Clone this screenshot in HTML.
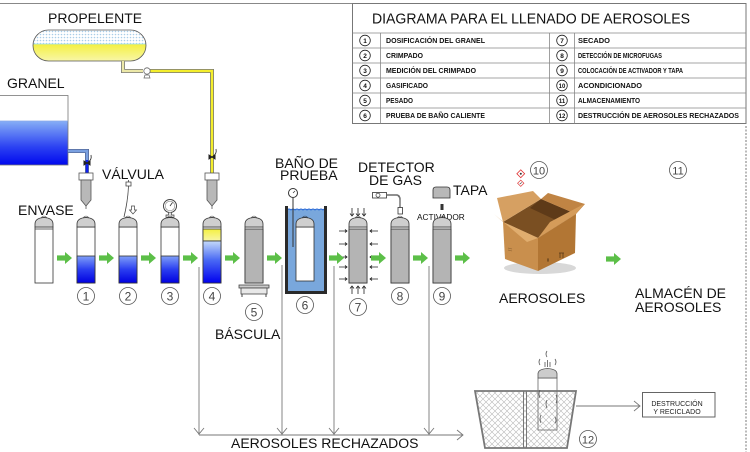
<!DOCTYPE html>
<html><head><meta charset="utf-8"><style>
html,body{margin:0;padding:0;background:#fff;}
svg{display:block;}
text{font-family:"Liberation Sans",sans-serif;}
</style></head><body>
<svg width="750" height="452" viewBox="0 0 750 452" xmlns="http://www.w3.org/2000/svg">
<defs>
 <pattern id="dots" width="3" height="3" patternUnits="userSpaceOnUse"><rect width="3" height="3" fill="#fff"/><circle cx="1.5" cy="1.5" r="0.8" fill="#a9cde8"/></pattern>
 <pattern id="hatch" width="6" height="6" patternUnits="userSpaceOnUse"><rect width="6" height="6" fill="#fff"/><path d="M0,0L6,6M6,0L0,6" stroke="#b8b8b8" stroke-width="0.6"/></pattern>
 <linearGradient id="gblue" x1="0" y1="0" x2="0" y2="1"><stop offset="0" stop-color="#86aef6"/><stop offset="0.6" stop-color="#2a40f2"/><stop offset="1" stop-color="#0008ee"/></linearGradient>
 <linearGradient id="cblue" x1="0" y1="0" x2="0" y2="1"><stop offset="0" stop-color="#7f9ff8"/><stop offset="0.5" stop-color="#2a3ef0"/><stop offset="1" stop-color="#0000e0"/></linearGradient>
 <linearGradient id="cblue4" x1="0" y1="0" x2="0" y2="1"><stop offset="0" stop-color="#c4dafa"/><stop offset="0.45" stop-color="#4a6af4"/><stop offset="1" stop-color="#0000ee"/></linearGradient>
 <linearGradient id="yel" x1="0" y1="0" x2="0" y2="1"><stop offset="0" stop-color="#f4f040"/><stop offset="1" stop-color="#f8f6a8"/></linearGradient>
 <clipPath id="tankclip"><rect x="33" y="30" width="113" height="31" rx="15.5"/></clipPath>
 <g id="dome"><path d="M-9,227 L-9,224 Q-9,218 0,217.5 Q9,218 9,224 L9,227 Z" fill="#cfcfcf" stroke="#333" stroke-width="0.8"/><path d="M-2.5,218 L-1.5,216.3 M0,217.8 L0,215.8 M2.5,218 L1.5,216.3" stroke="#222" stroke-width="0.7"/></g>
 <g id="garrow"><rect x="0" y="-2.6" width="8.5" height="5.2" fill="#5cbf48"/><path d="M8,-6 L15,0 L8,6 Z" fill="#5cbf48"/></g>
 <g id="nozzle"><rect x="-7" y="173" width="14" height="7" fill="#fff" stroke="#555" stroke-width="0.8"/><path d="M-5,180 L5,180 L5,200 L0,206 L-5,200 Z" fill="#b8b8b8" stroke="#555" stroke-width="0.8"/><line x1="0" y1="206" x2="0" y2="209" stroke="#555" stroke-width="0.8"/></g>
 <g id="valve"><path d="M-3,-2 L3,2 L3,-2 L-3,2 Z" fill="#222" stroke="#222" stroke-width="1"/><path d="M1,-1 Q5,-3 4,-8" fill="none" stroke="#222" stroke-width="0.8"/></g>
</defs>

<!-- frame -->
<line x1="0" y1="3.5" x2="746" y2="3.5" stroke="#888" stroke-width="1"/>
<line x1="746" y1="126" x2="746" y2="452" stroke="#777" stroke-width="1" stroke-dasharray="2,1.5"/>

<!-- legend -->
<rect x="352.5" y="3.5" width="393.5" height="120" fill="#fff" stroke="#777" stroke-width="1"/>
<text x="372" y="23.5" font-size="14.5" textLength="318" lengthAdjust="spacingAndGlyphs" fill="#111">DIAGRAMA PARA EL LLENADO DE AEROSOLES</text>
<g stroke="#888" stroke-width="0.8">
 <line x1="352.5" y1="33" x2="746" y2="33"/>
 <line x1="352.5" y1="48" x2="746" y2="48"/>
 <line x1="352.5" y1="63" x2="746" y2="63"/>
 <line x1="352.5" y1="78" x2="746" y2="78"/>
 <line x1="352.5" y1="93" x2="746" y2="93"/>
 <line x1="352.5" y1="108" x2="746" y2="108"/>
 <line x1="380.5" y1="33" x2="380.5" y2="123.5"/>
 <line x1="549.5" y1="33" x2="549.5" y2="123.5"/>
 <line x1="574.5" y1="33" x2="574.5" y2="123.5"/>
</g>
<g fill="#fff" stroke="#222" stroke-width="0.8">
 <circle cx="365" cy="40.5" r="5.3"/><circle cx="365" cy="55.5" r="5.3"/><circle cx="365" cy="70.5" r="5.3"/><circle cx="365" cy="85.5" r="5.3"/><circle cx="365" cy="100.5" r="5.3"/><circle cx="365" cy="115.5" r="5.3"/>
 <circle cx="562" cy="40.5" r="5.3"/><circle cx="562" cy="55.5" r="5.3"/><circle cx="562" cy="70.5" r="5.3"/><circle cx="562" cy="85.5" r="5.3"/><circle cx="562" cy="100.5" r="5.3"/><circle cx="562" cy="115.5" r="5.3"/>
</g>
<g font-size="6.5" font-weight="bold" fill="#111" text-anchor="middle">
 <text x="365" y="43">1</text><text x="365" y="58">2</text><text x="365" y="73">3</text><text x="365" y="88">4</text><text x="365" y="103">5</text><text x="365" y="118">6</text>
 <text x="562" y="43">7</text><text x="562" y="58">8</text><text x="562" y="73">9</text><text x="562" y="88" font-size="6">10</text><text x="562" y="103" font-size="6">11</text><text x="562" y="118" font-size="6">12</text>
</g>
<g font-size="7" font-weight="bold" fill="#111" lengthAdjust="spacingAndGlyphs">
 <text x="386" y="43" textLength="99" lengthAdjust="spacingAndGlyphs">DOSIFICACIÓN DEL GRANEL</text>
 <text x="386" y="58" textLength="37" lengthAdjust="spacingAndGlyphs">CRIMPADO</text>
 <text x="386" y="73" textLength="90" lengthAdjust="spacingAndGlyphs">MEDICIÓN DEL CRIMPADO</text>
 <text x="386" y="88" textLength="42" lengthAdjust="spacingAndGlyphs">GASIFICADO</text>
 <text x="386" y="103" textLength="27" lengthAdjust="spacingAndGlyphs">PESADO</text>
 <text x="386" y="118" textLength="99" lengthAdjust="spacingAndGlyphs">PRUEBA DE BAÑO CALIENTE</text>
 <text x="578" y="43" textLength="32" lengthAdjust="spacingAndGlyphs">SECADO</text>
 <text x="578" y="58" textLength="84" lengthAdjust="spacingAndGlyphs">DETECCIÓN DE MICROFUGAS</text>
 <text x="578" y="73" textLength="105" lengthAdjust="spacingAndGlyphs">COLOCACIÓN DE ACTIVADOR Y TAPA</text>
 <text x="578" y="88" textLength="64" lengthAdjust="spacingAndGlyphs">ACONDICIONADO</text>
 <text x="578" y="103" textLength="62" lengthAdjust="spacingAndGlyphs">ALMACENAMIENTO</text>
 <text x="578" y="118" textLength="161" lengthAdjust="spacingAndGlyphs">DESTRUCCIÓN DE AEROSOLES RECHAZADOS</text>
</g>

<!-- propelente tank -->
<text x="48" y="23" font-size="14" fill="#111">PROPELENTE</text>
<g clip-path="url(#tankclip)">
 <rect x="33" y="30" width="113" height="14" fill="url(#dots)"/>
 <rect x="33" y="44" width="113" height="17" fill="url(#yel)"/>
 <line x1="33" y1="44" x2="146" y2="44" stroke="#9ee0ef" stroke-width="0.8"/>
</g>
<rect x="33" y="30" width="113" height="31" rx="15.5" fill="none" stroke="#555" stroke-width="0.8"/>
<!-- propellant pipe -->
<path d="M123,61 L123,71 L143,71" fill="none" stroke="#777" stroke-width="4"/>
<path d="M123,61 L123,71 L143,71" fill="none" stroke="#ece8a8" stroke-width="2.4"/>
<path d="M150,71 L212,71 L212,173" fill="none" stroke="#777" stroke-width="4"/>
<path d="M150,71 L212,71 L212,173" fill="none" stroke="#f4ee2c" stroke-width="2.4"/>
<circle cx="147" cy="71" r="3.2" fill="#fff" stroke="#666" stroke-width="0.8"/>
<path d="M144,78 L145,75 L149,75 L150,78 Z" fill="#fff" stroke="#666" stroke-width="0.7"/>
<use href="#valve" x="212" y="157"/>

<!-- granel tank -->
<text x="7" y="88" font-size="14" fill="#111">GRANEL</text>
<rect x="0" y="121" width="68" height="44" fill="url(#gblue)"/>
<rect x="-1" y="95.5" width="69" height="69.5" fill="none" stroke="#777" stroke-width="0.8"/>
<line x1="0" y1="121" x2="68" y2="121" stroke="#8aa8e8" stroke-width="0.8"/>
<path d="M68,151 L87,151 L87,173" fill="none" stroke="#556a9a" stroke-width="4"/>
<path d="M68,151 L87,151 L87,160" fill="none" stroke="#7aa0e0" stroke-width="2.4"/>
<path d="M87,160 L87,173" fill="none" stroke="#1020f0" stroke-width="2.4"/>
<use href="#valve" x="87" y="163"/>

<use href="#nozzle" x="86" y="0"/>
<use href="#nozzle" x="212" y="0"/>

<!-- labels -->
<g font-size="14" fill="#111">
 <text x="18" y="215">ENVASE</text>
 <text x="102" y="179">VÁLVULA</text>
 <text x="275" y="168">BAÑO DE</text>
 <text x="280" y="180">PRUEBA</text>
 <text x="358" y="172">DETECTOR</text>
 <text x="369" y="185">DE GAS</text>
 <text x="453" y="195">TAPA</text>
 <text x="215" y="339">BÁSCULA</text>
 <text x="499" y="303">AEROSOLES</text>
 <text x="635" y="298">ALMACÉN DE</text>
 <text x="635" y="312">AEROSOLES</text>
 <text x="231" y="448">AEROSOLES RECHAZADOS</text>
</g>
<text x="417" y="220" font-size="8.3" fill="#111">ACTIVADOR</text>

<!-- valve crimp icon -->
<path d="M126,182 L131,182 L131,186 L126,186 Z M128.5,180 L128.5,182" fill="#fff" stroke="#444" stroke-width="0.8"/>
<path d="M128.5,186 Q128,200 124,217" fill="none" stroke="#444" stroke-width="0.8"/>
<path d="M131.5,206 L134.5,206 L134.5,210 L136.5,210 L133,214 L129.5,210 L131.5,210 Z" fill="#fff" stroke="#444" stroke-width="0.7"/>
<!-- gauge -->
<circle cx="170" cy="206" r="6.5" fill="#fff" stroke="#444" stroke-width="1"/>
<circle cx="170" cy="206" r="4.8" fill="none" stroke="#888" stroke-width="0.6"/>
<line x1="170" y1="206" x2="172.5" y2="202.5" stroke="#333" stroke-width="0.8"/>
<path d="M168.5,212.5 L168.5,215 L166,215 L166,217.5 L174,217.5 L174,215 L171.5,215 L171.5,212.5" fill="#ddd" stroke="#444" stroke-width="0.7"/>

<!-- cans -->
<g stroke="#333" stroke-width="0.8">
 <!-- envase -->
 <rect x="35" y="227" width="18" height="56" fill="#fff"/>
 <line x1="35" y1="229" x2="53" y2="229"/>
 <!-- 1 -->
 <rect x="77" y="227" width="18" height="56" fill="#fff"/>
 <rect x="77" y="256" width="18" height="27" fill="url(#cblue)"/>
 <!-- 2 -->
 <rect x="119" y="227" width="18" height="56" fill="#fff"/>
 <rect x="119" y="256" width="18" height="27" fill="url(#cblue)"/>
 <!-- 3 -->
 <rect x="161" y="227" width="18" height="56" fill="#fff"/>
 <rect x="161" y="256" width="18" height="27" fill="url(#cblue)"/>
 <!-- 4 -->
 <rect x="203" y="227" width="18" height="56" fill="#fff"/>
 <rect x="203" y="229" width="18" height="12" fill="url(#yel)"/>
 <rect x="203" y="241" width="18" height="42" fill="url(#cblue4)"/>
 <!-- 5 -->
 <rect x="245" y="227" width="18" height="56" fill="#fff"/>
 <rect x="245" y="229" width="18" height="54" fill="#b4b4b4"/>
 <!-- 7 -->
 <rect x="349" y="227" width="18" height="56" fill="#fff"/>
 <rect x="349" y="229" width="18" height="54" fill="#b4b4b4"/>
 <!-- 8 -->
 <rect x="391" y="227" width="18" height="56" fill="#fff"/>
 <rect x="391" y="229" width="18" height="54" fill="#b4b4b4"/>
 <!-- 9 -->
 <rect x="433" y="227" width="18" height="56" fill="#fff"/>
 <rect x="433" y="229" width="18" height="54" fill="#b4b4b4"/>
</g>
<use href="#dome" x="44" y="0"/><use href="#dome" x="86" y="0"/><use href="#dome" x="128" y="0"/><use href="#dome" x="170" y="0"/><use href="#dome" x="212" y="0"/><use href="#dome" x="254" y="0"/><use href="#dome" x="358" y="0"/><use href="#dome" x="400" y="0"/><use href="#dome" x="442" y="0"/>

<!-- scale -->
<rect x="239" y="285" width="30" height="3" fill="#ccc" stroke="#444" stroke-width="0.8"/>
<rect x="241" y="288" width="26" height="6" fill="#e8e8e8" stroke="#444" stroke-width="0.8"/>
<path d="M242,294 L242,297 M266,294 L266,297" stroke="#444" stroke-width="1"/>

<!-- bath -->
<rect x="287" y="209" width="38" height="83" fill="#79a7dc"/>
<path d="M287,210 q2,-2 4,0 q2,-2 4,0 q2,-2 4,0 q2,-2 4,0 q2,-2 4,0 q2,-2 4,0 q2,-2 4,0 q2,-2 4,0 q2,-2 4,0 q2,-2 2,0" fill="none" stroke="#2a6ad8" stroke-width="0.9"/>
<path d="M286.5,206 L286.5,292.5 L325.5,292.5 L325.5,206" fill="none" stroke="#2a2a2a" stroke-width="3"/>
<rect x="296" y="227" width="18" height="54" fill="#fff" stroke="#333" stroke-width="0.8"/>
<use href="#dome" x="305" y="0"/>
<line x1="293" y1="198" x2="293" y2="247" stroke="#333" stroke-width="1"/>
<circle cx="293" cy="193" r="4.5" fill="#fff" stroke="#333" stroke-width="1"/>
<line x1="293" y1="193" x2="295" y2="191" stroke="#333" stroke-width="0.7"/>

<!-- dryer arrows -->
<g stroke="#222" stroke-width="0.8" fill="none">
 <path d="M352,208 L352,216 M350,213.5 L352,216 L354,213.5"/>
 <path d="M358,208 L358,216 M356,213.5 L358,216 L360,213.5"/>
 <path d="M364,208 L364,216 M362,213.5 L364,216 L366,213.5"/>
 <path d="M352,294 L352,286 M350,288.5 L352,286 L354,288.5"/>
 <path d="M358,294 L358,286 M356,288.5 L358,286 L360,288.5"/>
 <path d="M364,294 L364,286 M362,288.5 L364,286 L366,288.5"/>
 <path d="M339,231 L347,231 M345,229.5 L347,231 L345,232.5"/>
 <path d="M339,244 L347,244 M345,242.5 L347,244 L345,245.5"/>
 <path d="M339,257 L347,257 M345,255.5 L347,257 L345,258.5"/>
 <path d="M339,267 L347,267 M345,265.5 L347,267 L345,268.5"/>
 <path d="M339,279 L347,279 M345,277.5 L347,279 L345,280.5"/>
 <path d="M378,231 L370,231 M372,229.5 L370,231 L372,232.5"/>
 <path d="M378,244 L370,244 M372,242.5 L370,244 L372,245.5"/>
 <path d="M378,257 L370,257 M372,255.5 L370,257 L372,258.5"/>
 <path d="M378,267 L370,267 M372,265.5 L370,267 L372,268.5"/>
 <path d="M378,279 L370,279 M372,277.5 L370,279 L372,280.5"/>
</g>

<!-- detector -->
<rect x="372.5" y="192.5" width="14" height="5.5" fill="#fff" stroke="#333" stroke-width="0.8"/>
<circle cx="378" cy="195.2" r="2" fill="none" stroke="#333" stroke-width="0.7"/>
<path d="M386.5,195 L396,195 Q400,195 400,200 L400,208" fill="none" stroke="#444" stroke-width="1.4"/>
<path d="M386.5,195 L396,195 Q400,195 400,200 L400,208" fill="none" stroke="#bbb" stroke-width="0.5"/>
<rect x="398" y="207.5" width="4.5" height="6.5" fill="#fff" stroke="#333" stroke-width="0.8"/>

<!-- tapa -->
<path d="M433,198 L433,190 Q433,187 436,187 L447,187 Q450,187 450,190 L450,198 Z" fill="#b8b8b8" stroke="#333" stroke-width="0.8"/>
<rect x="440.5" y="204" width="3" height="6" fill="#333"/>

<!-- green arrows -->
<use href="#garrow" x="57" y="258"/><use href="#garrow" x="99" y="258"/><use href="#garrow" x="141" y="258"/><use href="#garrow" x="183" y="258"/><use href="#garrow" x="225" y="258"/><use href="#garrow" x="267" y="258"/><use href="#garrow" x="329" y="258"/><use href="#garrow" x="371" y="258"/><use href="#garrow" x="413" y="258"/><use href="#garrow" x="455" y="258"/><use href="#garrow" x="606" y="259"/>

<!-- number circles -->
<g fill="#fff" stroke="#555" stroke-width="0.8">
 <circle cx="86" cy="296" r="8.5"/><circle cx="128" cy="296" r="8.5"/><circle cx="170" cy="296" r="8.5"/><circle cx="212" cy="296" r="8.5"/>
 <circle cx="254" cy="312" r="8.5"/><circle cx="305" cy="305" r="8.5"/><circle cx="358" cy="307" r="8.5"/><circle cx="400" cy="296" r="8.5"/><circle cx="442" cy="296" r="8.5"/>
 <circle cx="539" cy="170" r="8.5"/><circle cx="678" cy="170" r="8.5"/><circle cx="588" cy="439" r="8.5"/>
</g>
<g font-size="12" fill="#444" text-anchor="middle">
 <text x="86" y="300.5">1</text><text x="128" y="300.5">2</text><text x="170" y="300.5">3</text><text x="212" y="300.5">4</text>
 <text x="254" y="316.5">5</text><text x="305" y="309.5">6</text><text x="358" y="311.5">7</text><text x="400" y="300.5">8</text><text x="442" y="300.5">9</text>
 <text x="539" y="174.5" font-size="11">10</text><text x="678" y="174.5" font-size="11">11</text><text x="588" y="443.5" font-size="11">12</text>
</g>

<!-- cardboard box -->
<ellipse cx="540" cy="268" rx="36" ry="6" fill="#d8d8d8"/>
<polygon points="503,222 541,199 576,214 538,238" fill="#7a4f22"/>
<polygon points="541,199 576,214 560,222 530,208" fill="#5e3a18"/>
<polygon points="503,222 497,198 533,191 541,199" fill="#d6a062"/>
<polygon points="541,199 548,193 585,204 576,214" fill="#c08444"/>
<polygon points="503,222 538,238 538,271 505,259" fill="#c98f4d"/>
<polygon points="538,238 576,214 575,253 538,271" fill="#b27634"/>
<polygon points="503,222 538,238 527,242 494,214" fill="#e0ad6e"/>
<polygon points="538,238 576,214 584,204 550,222" fill="#d59c5a"/>
<path d="M548,262 l0,-4 m-1,2 l2,0" stroke="#5a3a18" stroke-width="0.7"/>
<path d="M560,258 l0,-5 m3,5 l0,-5 m-4,0 l5,0" stroke="#5a3a18" stroke-width="0.8"/>
<path d="M508,248 l4,1 m-4,1 l4,1" stroke="#8a6030" stroke-width="0.6"/>
<!-- hazard icons -->
<rect x="518" y="171" width="5.5" height="5.5" transform="rotate(45 520.75 173.75)" fill="#fff" stroke="#e03030" stroke-width="0.8"/>
<rect x="518.5" y="181" width="4.5" height="4.5" transform="rotate(45 520.75 183.25)" fill="#fff" stroke="#e04040" stroke-width="0.7"/>
<circle cx="520.8" cy="173.8" r="1" fill="#333"/>
<path d="M519.8,184 L521.8,182.5" stroke="#333" stroke-width="0.6"/>

<!-- reject lines -->
<g stroke="#777" stroke-width="0.9" fill="none">
 <line x1="199" y1="267" x2="199" y2="435"/>
 <line x1="282" y1="265" x2="282" y2="435"/>
 <line x1="334" y1="266" x2="334" y2="435"/>
 <line x1="429" y1="266" x2="429" y2="435"/>
 <line x1="199" y1="435" x2="463" y2="435"/>
 <path d="M194,428 L199,434 L204,428"/>
 <path d="M277,428 L282,434 L287,428"/>
 <path d="M329,428 L334,434 L339,428"/>
 <path d="M424,428 L429,434 L434,428"/>
 <path d="M457,430 L463,435 L457,440"/>
</g>

<!-- destruction bin -->
<polygon points="475,391 576,391 567,448 485,448" fill="url(#hatch)" stroke="#777" stroke-width="1.8"/>
<line x1="523.5" y1="391" x2="523.5" y2="448" stroke="#777" stroke-width="1"/>
<line x1="526.5" y1="391" x2="526.5" y2="448" stroke="#777" stroke-width="1"/>
<rect x="538" y="378" width="19" height="52" fill="none" stroke="#777" stroke-width="0.9"/>
<path d="M538,378 L538,374 Q538,369 547.5,368.5 Q557,369 557,374 L557,378 Z" fill="#ccc" stroke="#555" stroke-width="0.8"/>
<g stroke="#555" stroke-width="0.8" fill="none">
 <path d="M545,367 L545,362 M547.5,367 L547.5,360 M550,367 L550,362"/>
 <path d="M540,365 q-2,-3 0,-6 M555,365 q2,-3 0,-6 M547,357 q-2,-3 0,-6"/>
 <path d="M540,390 q-2,4 0,8 M556,395 q2,4 0,8 M547,400 q-2,4 0,8 M541,415 q-2,4 0,8 M555,417 q2,4 0,6"/>
</g>
<line x1="576" y1="406" x2="640" y2="406" stroke="#777" stroke-width="0.9"/>
<path d="M634,401 L640,406 L634,411" fill="none" stroke="#777" stroke-width="0.9"/>
<rect x="642.5" y="392.5" width="72.5" height="24.5" fill="#fff" stroke="#555" stroke-width="0.9"/>
<g font-size="7" fill="#222" text-anchor="middle">
 <text x="677" y="406">DESTRUCCIÓN</text>
 <text x="677" y="414">Y RECICLADO</text>
</g>
</svg>
</body></html>
